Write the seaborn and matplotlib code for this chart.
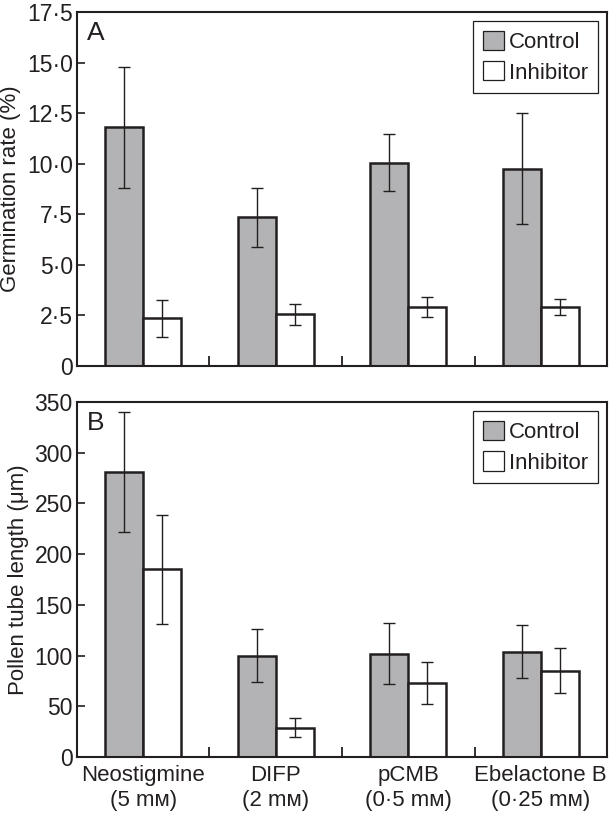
import matplotlib
matplotlib.use("Agg")
import matplotlib.pyplot as plt
from matplotlib.patches import Patch
from matplotlib.ticker import FixedLocator
import pandas as pd
import seaborn as sns

# values
categories = ["Neostigmine\n(5 mᴍ)", "DIFP\n(2 mᴍ)", "pCMB\n(0·5 mᴍ)", "Ebelactone B\n(0·25 mᴍ)"]
groups = ["Control", "Inhibitor"]

germ_control = [11.8, 7.35, 10.05, 9.75]
germ_control_err = [3.0, 1.45, 1.4, 2.75]
germ_inhib = [2.35, 2.55, 2.9, 2.9]
germ_inhib_err = [0.9, 0.5, 0.5, 0.4]

tube_control = [281, 100, 102, 104]
tube_control_err = [59, 26, 30, 26]
tube_inhib = [185, 29, 73, 85]
tube_inhib_err = [54, 9.5, 21, 22]

germ_ticks = [0, 2.5, 5.0, 7.5, 10.0, 12.5, 15.0, 17.5]
germ_ticklabels = ["0", "2·5", "5·0", "7·5", "10·0", "12·5", "15·0", "17·5"]
tube_ticks = [0, 50, 100, 150, 200, 250, 300, 350]
tube_ticklabels = ["0", "50", "100", "150", "200", "250", "300", "350"]

INK = "#231f20"
GREY = "#b3b3b5"
FS = 16

sns.set_style("ticks")
plt.rcParams["font.family"] = ["Liberation Sans", "DejaVu Sans"]
plt.rcParams["text.color"] = INK
plt.rcParams["axes.labelcolor"] = INK
plt.rcParams["xtick.color"] = INK
plt.rcParams["ytick.color"] = INK


def make_frame(control, inhib):
    return pd.DataFrame(
        {
            "treatment": categories * 2,
            "group": ["Control"] * len(categories) + ["Inhibitor"] * len(categories),
            "value": list(control) + list(inhib),
        }
    )


def draw_panel(ax, control, control_err, inhib, inhib_err, ticks, ticklabels, ylabel, letter, show_x):
    df = make_frame(control, inhib)
    sns.barplot(
        data=df, x="treatment", y="value", hue="group", order=categories, hue_order=groups,
        palette={"Control": GREY, "Inhibitor": "white"}, width=0.575, gap=0,
        edgecolor=INK, linewidth=1.8, saturation=1, errorbar=None, legend=False, ax=ax,
    )
    # error bars at the centres of the bars seaborn drew
    for container, errs in zip(ax.containers, [control_err, inhib_err]):
        xs = [p.get_x() + p.get_width() / 2 for p in container.patches]
        ys = [p.get_height() for p in container.patches]
        ax.errorbar(xs, ys, yerr=errs, fmt="none", ecolor=INK, elinewidth=1.0,
                    capsize=4.3, capthick=1.0, zorder=5)

    ax.set_xlim(-0.5, len(categories) - 0.5)
    ax.set_ylim(ticks[0], ticks[-1])
    ax.yaxis.set_major_locator(FixedLocator(ticks))
    ax.set_yticklabels(ticklabels)
    ax.tick_params(axis="y", direction="in", length=6, width=1.2, labelsize=16.5, pad=3)
    ax.xaxis.set_minor_locator(FixedLocator([0.5, 1.5, 2.5]))
    ax.tick_params(axis="x", which="major", length=0, labelsize=FS, pad=6)
    ax.tick_params(axis="x", which="minor", direction="in", length=7.5, width=1.3)
    if not show_x:
        ax.set_xticklabels([])
    ax.set_xlabel("")
    ax.set_ylabel(ylabel, fontsize=FS, labelpad=4)
    for side in ax.spines.values():
        side.set_visible(True)
        side.set_linewidth(1.5)
        side.set_color(INK)

    handles = [Patch(facecolor=GREY, edgecolor=INK, linewidth=0.9),
               Patch(facecolor="white", edgecolor=INK, linewidth=0.9)]
    leg = ax.legend(handles, groups, loc="upper right", fontsize=FS, frameon=True, fancybox=False,
                    edgecolor=INK, framealpha=1, handlelength=0.95, handleheight=0.95,
                    handletextpad=0.25, borderpad=0.42, labelspacing=0.38, borderaxespad=0.42)
    leg.get_frame().set_linewidth(0.9)
    ax.text(0.019, 0.975, letter, transform=ax.transAxes, ha="left", va="top", fontsize=19)


fig = plt.figure(figsize=(6.1, 8.14), dpi=100)
ax_a = fig.add_axes([0.1262, 0.5504, 0.8689, 0.4349])
ax_b = fig.add_axes([0.1262, 0.0700, 0.8689, 0.4361])

draw_panel(ax_a, germ_control, germ_control_err, germ_inhib, germ_inhib_err,
           germ_ticks, germ_ticklabels, "Germination rate (%)", "A", False)
draw_panel(ax_b, tube_control, tube_control_err, tube_inhib, tube_inhib_err,
           tube_ticks, tube_ticklabels, "Pollen tube length (μm)", "B", True)

fig.savefig("out.png", dpi=100)
